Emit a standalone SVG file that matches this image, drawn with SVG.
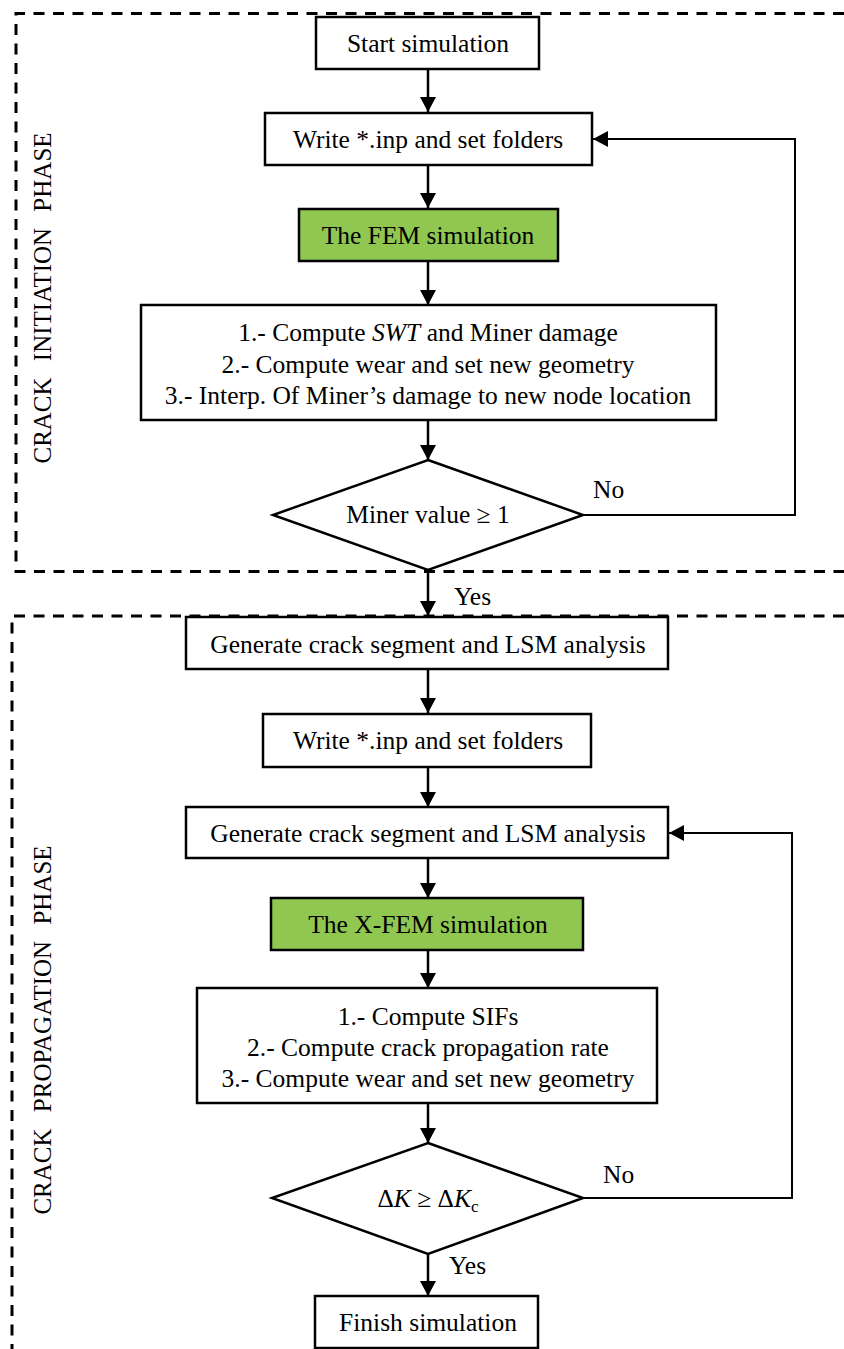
<svg xmlns="http://www.w3.org/2000/svg" width="844" height="1349" viewBox="0 0 844 1349">
<style>
.box{fill:#fff;stroke:#000;stroke-width:2.5}
.green{fill:#8fc750;stroke:#000;stroke-width:2.5}
.t{font-family:"Liberation Serif","Times New Roman",serif;font-size:25.5px;fill:#000;text-anchor:middle}
.lbl{font-family:"Liberation Serif","Times New Roman",serif;font-size:25.5px;fill:#000}
.side{font-family:"Liberation Serif","Times New Roman",serif;font-size:25px;fill:#000;text-anchor:middle;word-spacing:10px}
.dash{fill:none;stroke:#000;stroke-width:3;stroke-dasharray:11 8.5}
.c{fill:none;stroke:#000;stroke-width:2.5}
.fb{fill:none;stroke:#000;stroke-width:2}
</style>
<defs>
<marker id="arr" markerUnits="userSpaceOnUse" markerWidth="15" markerHeight="16" refX="15" refY="8" orient="auto">
<path d="M0,0 L15,8 L0,16 Z" fill="#000"/>
</marker>
</defs>
<g id="phases">
<path class="dash" d="M844,13.5 H16 V571.5 H844"/>
<path class="dash" d="M844,616 H12 V1349"/>
<text class="side" transform="translate(51,298) rotate(-90)">CRACK INITIATION PHASE</text>
<text class="side" transform="translate(51,1030) rotate(-90)">CRACK PROPAGATION PHASE</text>
</g>
<g id="connectors">
<line class="c" x1="428" y1="69" x2="428" y2="112" marker-end="url(#arr)"/>
<line class="c" x1="428" y1="165" x2="428" y2="208" marker-end="url(#arr)"/>
<line class="c" x1="428" y1="261" x2="428" y2="305" marker-end="url(#arr)"/>
<line class="c" x1="428" y1="420" x2="428" y2="460" marker-end="url(#arr)"/>
<polyline class="fb" points="583,515 795,515 795,139 593,139" marker-end="url(#arr)"/>
<line class="c" x1="428" y1="570" x2="428" y2="616" marker-end="url(#arr)"/>
<line class="c" x1="428" y1="669" x2="428" y2="713" marker-end="url(#arr)"/>
<line class="c" x1="428" y1="767" x2="428" y2="807" marker-end="url(#arr)"/>
<line class="c" x1="428" y1="858" x2="428" y2="898" marker-end="url(#arr)"/>
<line class="c" x1="428" y1="950" x2="428" y2="988" marker-end="url(#arr)"/>
<line class="c" x1="428" y1="1103" x2="428" y2="1143" marker-end="url(#arr)"/>
<polyline class="fb" points="583,1198 792,1198 792,833 669,833" marker-end="url(#arr)"/>
<line class="c" x1="428" y1="1254" x2="428" y2="1296" marker-end="url(#arr)"/>
<text class="lbl" x="593" y="498">No</text>
<text class="lbl" x="454" y="605">Yes</text>
<text class="lbl" x="603" y="1183">No</text>
<text class="lbl" x="449" y="1274">Yes</text>
</g>
<g id="start">
<rect class="box" x="316" y="17" width="223" height="52"/>
<text class="t" x="428" y="52">Start simulation</text>
</g>
<g id="write1">
<rect class="box" x="265" y="113" width="327" height="52"/>
<text class="t" x="428" y="148">Write *.inp and set folders</text>
</g>
<g id="fem">
<rect class="green" x="299" y="209" width="259" height="52"/>
<text class="t" x="428" y="244">The FEM simulation</text>
</g>
<g id="compute1">
<rect class="box" x="141" y="305" width="575" height="115"/>
<text class="t" x="428" y="341">1.- Compute <tspan font-style="italic">SWT</tspan> and Miner damage</text>
<text class="t" x="428" y="373">2.- Compute wear and set new geometry</text>
<text class="t" x="428" y="404">3.- Interp. Of Miner’s damage to new node location</text>
</g>
<g id="decision1">
<polygon class="box" points="428,460 583,515 428,570 273,515"/>
<text class="t" x="428" y="523">Miner value ≥ 1</text>
</g>
<g id="generate1">
<rect class="box" x="186" y="617" width="482" height="52"/>
<text class="t" x="428" y="653">Generate crack segment and LSM analysis</text>
</g>
<g id="write2">
<rect class="box" x="263" y="714" width="328" height="53"/>
<text class="t" x="428" y="749">Write *.inp and set folders</text>
</g>
<g id="generate2">
<rect class="box" x="186" y="807" width="482" height="51"/>
<text class="t" x="428" y="842">Generate crack segment and LSM analysis</text>
</g>
<g id="xfem">
<rect class="green" x="271" y="898" width="312" height="52"/>
<text class="t" x="428" y="933">The X-FEM simulation</text>
</g>
<g id="compute2">
<rect class="box" x="197" y="988" width="460" height="115"/>
<text class="t" x="428" y="1025">1.- Compute SIFs</text>
<text class="t" x="428" y="1056">2.- Compute crack propagation rate</text>
<text class="t" x="428" y="1087">3.- Compute wear and set new geometry</text>
</g>
<g id="decision2">
<polygon class="box" points="428,1143 583,1198 428,1254 272,1198"/>
<text class="t" x="428" y="1207">Δ<tspan font-style="italic">K</tspan> ≥ Δ<tspan font-style="italic">K</tspan><tspan font-size="17" dy="5">c</tspan></text>
</g>
<g id="finish">
<rect class="box" x="315" y="1296" width="223" height="52"/>
<text class="t" x="428" y="1331">Finish simulation</text>
</g>
</svg>
